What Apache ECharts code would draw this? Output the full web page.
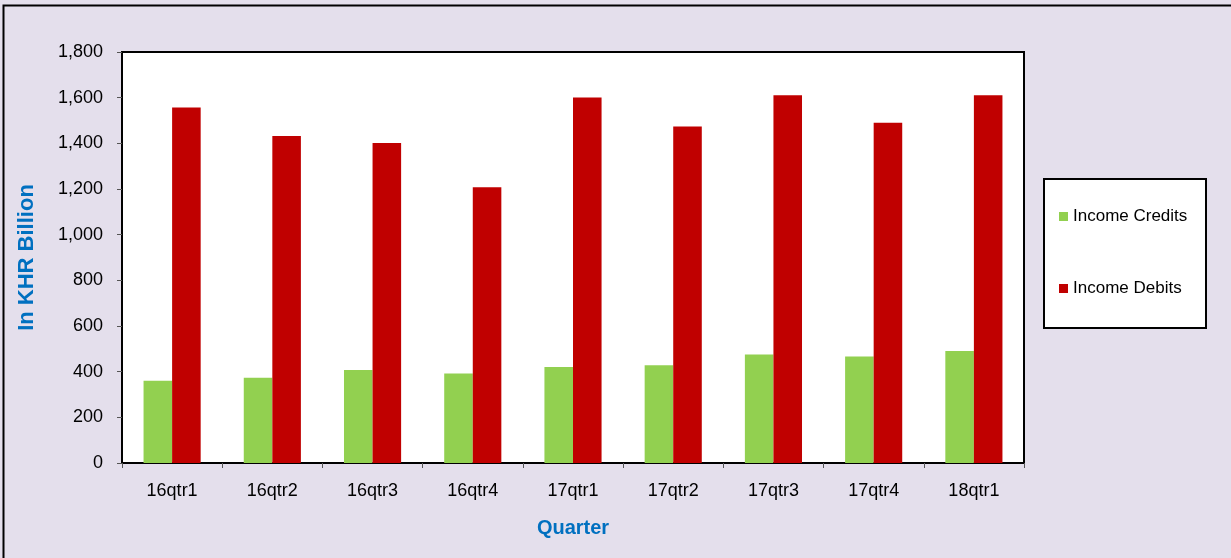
<!DOCTYPE html>
<html>
<head>
<meta charset="utf-8">
<script src="https://cdn.jsdelivr.net/npm/echarts@6/dist/echarts.min.js"></script>
<style>
html,body{margin:0;padding:0;background:#E4DFEC;}
#chart{width:1231px;height:558px;}
</style>
</head>
<body>
<div id="chart"></div>
<script>
const categories = ['16qtr1','16qtr2','16qtr3','16qtr4','17qtr1','17qtr2','17qtr3','17qtr4','18qtr1'];
const incomeCredits = [360, 373, 407, 392, 420, 428, 475, 466, 490];
const incomeDebits = [1557, 1432, 1402, 1208, 1601, 1474, 1611, 1490, 1611];
const yTicks = { min: 0, max: 1800, interval: 200 };

const chart = echarts.init(document.getElementById('chart'), null, {renderer: 'canvas'});
const font = 'Liberation Sans, Arial, sans-serif';
chart.setOption({
  backgroundColor: '#E4DFEC',
  animation: false,
  textStyle: { fontFamily: font },
  graphic: [
    { type: 'rect', left: 1, top: 3, z: 100, silent: true,
      shape: { width: 1240, height: 570 },
      style: { fill: 'none', stroke: '#000', lineWidth: 2 } },
    { type: 'rect', left: 1043, top: 178, z: 0, silent: true,
      shape: { width: 162, height: 149 },
      style: { fill: '#fff', stroke: '#000', lineWidth: 2 } }
  ],
  grid: { left: 122, right: 207, top: 52, bottom: 95, show: true, backgroundColor: '#fff', borderColor: '#000', borderWidth: 2 },
  legend: {
    orient: 'vertical', left: 1054, top: 203, z: 10,
    itemWidth: 9, itemHeight: 9, itemGap: 55,
    icon: 'rect',
    textStyle: { fontSize: 17, color: '#000', fontFamily: font },
    data: ['Income Credits', 'Income Debits']
  },
  xAxis: {
    type: 'category', data: categories,
    name: 'Quarter', nameLocation: 'middle', nameGap: 55,
    nameTextStyle: { fontSize: 20, fontWeight: 'bold', color: '#0070C0', fontFamily: font },
    axisLine: { lineStyle: { color: '#000', width: 2 } },
    axisTick: { show: true, length: 5, lineStyle: { color: '#555' } },
    axisLabel: { fontSize: 18, color: '#000', margin: 19, fontFamily: font }
  },
  yAxis: {
    type: 'value', min: yTicks.min, max: yTicks.max, interval: yTicks.interval,
    name: 'In KHR Billion', nameLocation: 'middle', nameGap: 84, nameRotate: 90,
    nameTextStyle: { fontSize: 22, fontWeight: 'bold', color: '#0070C0', fontFamily: font },
    axisLine: { show: true, lineStyle: { color: '#000', width: 2 } },
    axisTick: { show: true, length: 5, lineStyle: { color: '#555' } },
    splitLine: { show: false },
    axisLabel: { fontSize: 18, color: '#000', margin: 19, fontFamily: font,
      formatter: v => v.toLocaleString('en-US') }
  },
  series: [
    { name: 'Income Credits', type: 'bar', data: incomeCredits, barGap: '0%', barCategoryGap: '43%',
      itemStyle: { color: '#92D050' } },
    { name: 'Income Debits', type: 'bar', data: incomeDebits,
      itemStyle: { color: '#C00000' } }
  ]
});
</script>
</body>
</html>
